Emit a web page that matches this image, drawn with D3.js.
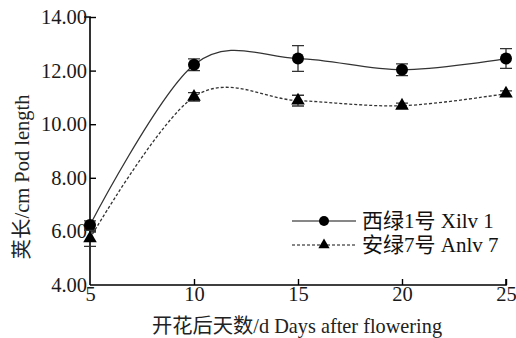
<!DOCTYPE html>
<html><head><meta charset="utf-8">
<script src="https://cdn.jsdelivr.net/npm/d3@7"></script>
<style>body{margin:0;background:#fff}svg{display:block}</style>
</head><body>
<svg id="c" width="516" height="338"></svg>
<script>
const days = [5, 10, 15, 20, 25];
const xilv = [6.24, 12.22, 12.45, 12.03, 12.45];
const xilvErr = [0.15, 0.22, 0.48, 0.22, 0.37];
const anlv = [5.74, 11.02, 10.88, 10.69, 11.14];
const anlvErr = [0.3, 0.16, 0.2, 0.1, 0.1];
const yTicks = [4, 6, 8, 10, 12, 14];
const xTicks = [5, 10, 15, 20, 25];
const seriesNames = ["西绿1号 Xilv 1", "安绿7号 Anlv 7"];

const serif = "'Liberation Serif','Times New Roman','Noto Sans CJK SC',serif";
const svg = d3.select("#c");
const x = d3.scaleLinear().domain([5, 25]).range([90, 506]);
const y = d3.scaleLinear().domain([4, 14]).range([285, 17]);

// axes
const gy = svg.append("g").attr("transform", "translate(90,0)")
  .call(d3.axisLeft(y).tickValues(yTicks).tickSize(-6).tickPadding(3).tickFormat(d3.format(".2f")));
const gx = svg.append("g").attr("transform", "translate(0,285)")
  .call(d3.axisBottom(x).tickValues(xTicks).tickSize(-6).tickPadding(1).tickFormat(d3.format("d")));
[gy, gx].forEach(g => {
  g.select(".domain").attr("stroke", "#000").attr("stroke-width", 1.6);
  g.selectAll(".tick line").attr("stroke", "#000").attr("stroke-width", 1.4);
  g.selectAll(".tick text").attr("fill", "#1a1a1a").style("font-family", serif).style("font-size", "20.5px");
});
gy.select(".domain").attr("d", "M-6,17H0V285");
gx.select(".domain").attr("d", "M90,0H506V-6");
gx.selectAll(".tick").filter(d => d === 5).select("line").remove();
gy.selectAll(".tick").filter(d => d === 4).select("line").remove();
gy.selectAll(".tick").filter(d => d === 14).select("line").attr("x2", 6);

// axis titles
svg.append("text").attr("x", 297).attr("y", 333).attr("text-anchor", "middle")
  .style("font-family", serif).style("font-size", "20.3px").attr("fill", "#222")
  .text("开花后天数/d Days after flowering");
svg.append("text").attr("transform", "translate(29,177) rotate(-90)").attr("text-anchor", "middle")
  .style("font-family", serif).style("font-size", "20.5px").attr("fill", "#222")
  .text("荚长/cm Pod length");

const curve = d3.curveCardinal.tension(0);
const line = d3.line().x(d => x(d[0])).y(d => y(d[1])).curve(curve);

function drawSeries(vals, errs, dashed, marker) {
  const pts = days.map((d, i) => [d, vals[i]]);
  svg.append("path").attr("d", line(pts)).attr("fill", "none").attr("stroke", "#333")
    .attr("stroke-width", 1.3).attr("stroke-dasharray", dashed ? "3,2" : null);
  const g = svg.append("g");
  pts.forEach((p, i) => {
    const cx = x(p[0]), t = y(p[1] + errs[i]), b = y(p[1] - errs[i]);
    g.append("path").attr("d", `M${cx},${t}V${b}M${cx-6},${t}H${cx+6}M${cx-6},${b}H${cx+6}`)
      .attr("stroke", "#333").attr("stroke-width", 1.3).attr("fill", "none");
  });
  pts.forEach(p => drawMarker(g, x(p[0]), y(p[1]), marker));
}
function drawMarker(g, cx, cy, marker) {
  if (marker === "circle") g.append("circle").attr("cx", cx).attr("cy", cy).attr("r", 6).attr("fill", "#000");
  else g.append("path").attr("d", d3.symbol(d3.symbolTriangle, 80)()).attr("transform", `translate(${cx},${cy})`).attr("fill", "#000");
}
drawSeries(xilv, xilvErr, false, "circle");
drawSeries(anlv, anlvErr, true, "triangle");

// legend
const lg = svg.append("g");
[[221, false, "circle"], [245, true, "triangle"]].forEach((r, i) => {
  lg.append("line").attr("x1", 292).attr("x2", 356).attr("y1", r[0]).attr("y2", r[0])
    .attr("stroke", "#111").attr("stroke-width", 1.2).attr("stroke-dasharray", r[1] ? "3,2" : null);
  if (r[2] === "circle") lg.append("circle").attr("cx", 324).attr("cy", r[0]).attr("r", 5).attr("fill", "#000");
  else lg.append("path").attr("d", d3.symbol(d3.symbolTriangle, 55)()).attr("transform", `translate(324,${r[0]})`).attr("fill", "#000");
  lg.append("text").attr("x", 362).attr("y", r[0] + 7).style("font-family", serif).style("font-size", "21px")
    .attr("fill", "#111").text(seriesNames[i]);
});
</script>
</body></html>
